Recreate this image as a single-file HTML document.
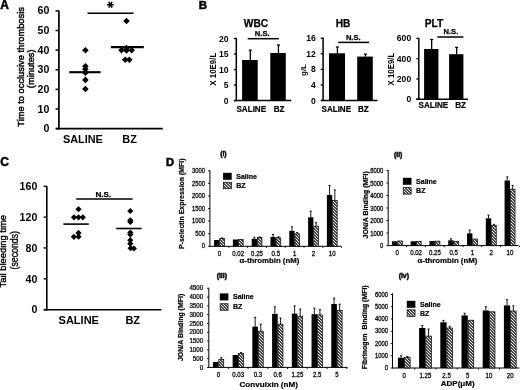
<!DOCTYPE html>
<html><head><meta charset="utf-8"><style>
html,body{margin:0;padding:0;background:#fff;width:520px;height:390px;overflow:hidden}
svg{display:block;will-change:transform}
text{font-family:"Liberation Sans",sans-serif;fill:#000;white-space:pre}
</style></head><body>
<svg width="520" height="390" viewBox="0 0 520 390">
<defs>
<pattern id="hatch" patternUnits="userSpaceOnUse" width="3" height="3">
<rect x="0" y="0" width="3" height="3" fill="#000"/>
<path d="M0 0L0.75 0L3 2.25L3 3L2.25 3L0 0.75Z M2.25 0L3 0L3 0.75Z M0 2.25L0.75 3L0 3Z" fill="#fff"/>
</pattern>
</defs>
<rect x="0" y="0" width="520" height="390" fill="#fff"/>
<text x="0.3" y="8.6" style="font-size:12px;stroke:#000;stroke-width:0.5px;font-weight:bold;" text-anchor="start">A</text>
<line x1="58.9" y1="10.6" x2="58.9" y2="129.5" stroke="#000" stroke-width="1.7"/>
<line x1="56" y1="128.7" x2="162.8" y2="128.7" stroke="#000" stroke-width="1.7"/>
<line x1="55.5" y1="128.6" x2="58.9" y2="128.6" stroke="#000" stroke-width="1.5"/>
<text x="49.3" y="132.2" style="font-size:10.6px;font-weight:bold;" text-anchor="end">0</text>
<line x1="55.5" y1="108.98" x2="58.9" y2="108.98" stroke="#000" stroke-width="1.5"/>
<text x="49.3" y="112.58" style="font-size:10.6px;font-weight:bold;" text-anchor="end">10</text>
<line x1="55.5" y1="89.36" x2="58.9" y2="89.36" stroke="#000" stroke-width="1.5"/>
<text x="49.3" y="92.96" style="font-size:10.6px;font-weight:bold;" text-anchor="end">20</text>
<line x1="55.5" y1="69.74" x2="58.9" y2="69.74" stroke="#000" stroke-width="1.5"/>
<text x="49.3" y="73.34" style="font-size:10.6px;font-weight:bold;" text-anchor="end">30</text>
<line x1="55.5" y1="50.12" x2="58.9" y2="50.12" stroke="#000" stroke-width="1.5"/>
<text x="49.3" y="53.72" style="font-size:10.6px;font-weight:bold;" text-anchor="end">40</text>
<line x1="55.5" y1="30.5" x2="58.9" y2="30.5" stroke="#000" stroke-width="1.5"/>
<text x="49.3" y="34.1" style="font-size:10.6px;font-weight:bold;" text-anchor="end">50</text>
<line x1="55.5" y1="10.88" x2="58.9" y2="10.88" stroke="#000" stroke-width="1.5"/>
<text x="49.3" y="14.48" style="font-size:10.6px;font-weight:bold;" text-anchor="end">60</text>
<text x="23.9" y="66.9" style="font-size:9.3px;stroke:#000;stroke-width:0.45px;" text-anchor="middle" transform="rotate(-90 23.9 66.9)">Time to occlusive thrombosis</text>
<text x="34.1" y="68.8" style="font-size:9.3px;stroke:#000;stroke-width:0.45px;" text-anchor="middle" transform="rotate(-90 34.1 68.8)">(minutes)</text>
<text x="62.9" y="142.6" style="font-size:10.9px;font-weight:bold;" text-anchor="start">SALINE</text>
<text x="122.3" y="142.6" style="font-size:10.9px;font-weight:bold;" text-anchor="start">BZ</text>
<line x1="87.5" y1="13.3" x2="133.6" y2="13.3" stroke="#000" stroke-width="1.6"/>
<line x1="107.1" y1="4.8" x2="113.7" y2="4.8" stroke="#000" stroke-width="1.6"/>
<line x1="108.75" y1="1.94" x2="112.05" y2="7.66" stroke="#000" stroke-width="1.6"/>
<line x1="112.05" y1="1.94" x2="108.75" y2="7.66" stroke="#000" stroke-width="1.6"/>
<path d="M85.4 46.9L88.7 50.2L85.4 53.5L82.1 50.2Z" fill="#000"/>
<path d="M85.4 63L88.7 66.3L85.4 69.6L82.1 66.3Z" fill="#000"/>
<path d="M85.4 66L88.7 69.3L85.4 72.6L82.1 69.3Z" fill="#000"/>
<path d="M85.4 69.4L88.7 72.7L85.4 76L82.1 72.7Z" fill="#000"/>
<path d="M85.4 76.6L88.7 79.9L85.4 83.2L82.1 79.9Z" fill="#000"/>
<path d="M85.4 85.7L88.7 89L85.4 92.3L82.1 89Z" fill="#000"/>
<line x1="69.2" y1="72.2" x2="100.6" y2="72.2" stroke="#000" stroke-width="2.1"/>
<path d="M126.5 17.7L129.8 21L126.5 24.3L123.2 21Z" fill="#000"/>
<path d="M126.5 44.7L129.8 48L126.5 51.3L123.2 48Z" fill="#000"/>
<path d="M121.5 46.9L124.8 50.2L121.5 53.5L118.2 50.2Z" fill="#000"/>
<path d="M126.5 47.1L129.8 50.4L126.5 53.7L123.2 50.4Z" fill="#000"/>
<path d="M131.7 46.9L135 50.2L131.7 53.5L128.4 50.2Z" fill="#000"/>
<path d="M125.2 56.5L128.5 59.8L125.2 63.1L121.9 59.8Z" fill="#000"/>
<path d="M129.3 56.5L132.6 59.8L129.3 63.1L126 59.8Z" fill="#000"/>
<line x1="110.9" y1="47.1" x2="143.8" y2="47.1" stroke="#000" stroke-width="2.1"/>
<text x="198.8" y="9.3" style="font-size:11.5px;stroke:#000;stroke-width:0.5px;font-weight:bold;" text-anchor="start">B</text>
<line x1="236.3" y1="37.7" x2="236.3" y2="101.2" stroke="#000" stroke-width="1.5"/>
<line x1="234" y1="100.6" x2="291.3" y2="100.6" stroke="#000" stroke-width="1.5"/>
<line x1="233.9" y1="100.6" x2="236.3" y2="100.6" stroke="#000" stroke-width="1.3"/>
<text x="228.6" y="103.6" style="font-size:8.6px;font-weight:bold;" text-anchor="end">0</text>
<line x1="233.9" y1="85.07" x2="236.3" y2="85.07" stroke="#000" stroke-width="1.3"/>
<text x="228.6" y="88.07" style="font-size:8.6px;font-weight:bold;" text-anchor="end">5</text>
<line x1="233.9" y1="69.55" x2="236.3" y2="69.55" stroke="#000" stroke-width="1.3"/>
<text x="228.6" y="72.55" style="font-size:8.6px;font-weight:bold;" text-anchor="end">10</text>
<line x1="233.9" y1="54.02" x2="236.3" y2="54.02" stroke="#000" stroke-width="1.3"/>
<text x="228.6" y="57.02" style="font-size:8.6px;font-weight:bold;" text-anchor="end">15</text>
<line x1="233.9" y1="38.5" x2="236.3" y2="38.5" stroke="#000" stroke-width="1.3"/>
<text x="228.6" y="41.5" style="font-size:8.6px;font-weight:bold;" text-anchor="end">20</text>
<text x="256" y="26.6" style="font-size:10.2px;stroke:#000;stroke-width:0.25px;font-weight:bold;" text-anchor="middle">WBC</text>
<rect x="242.1" y="60" width="15.6" height="40.6" fill="#000"/>
<line x1="250.3" y1="60" x2="250.3" y2="50.2" stroke="#000" stroke-width="1.3"/>
<line x1="248.8" y1="50.2" x2="251.8" y2="50.2" stroke="#000" stroke-width="1.3"/>
<rect x="270.3" y="53" width="15.5" height="47.6" fill="#000"/>
<line x1="278.45" y1="53" x2="278.45" y2="45" stroke="#000" stroke-width="1.3"/>
<line x1="276.95" y1="45" x2="279.95" y2="45" stroke="#000" stroke-width="1.3"/>
<text x="236.5" y="111.9" style="font-size:8.5px;stroke:#000;stroke-width:0.2px;font-weight:bold;" text-anchor="start" transform="translate(236.5 111.9) scale(0.95 1) translate(-236.5 -111.9)">SALINE</text>
<text x="273.7" y="111.9" style="font-size:8.5px;stroke:#000;stroke-width:0.2px;font-weight:bold;" text-anchor="start" transform="translate(273.7 111.9) scale(0.95 1) translate(-273.7 -111.9)">BZ</text>
<text x="254.8" y="35.9" style="font-size:7.6px;stroke:#000;stroke-width:0.25px;font-weight:bold;" text-anchor="start">N.S.</text>
<line x1="247.7" y1="38.7" x2="278.8" y2="38.7" stroke="#000" stroke-width="1.5"/>
<text x="216.3" y="69.2" style="font-size:8.8px;font-weight:bold;" text-anchor="middle" transform="rotate(-90 216.3 69.2) translate(216.3 69.2) scale(0.9 1) translate(-216.3 -69.2)">X 10E9/L</text>
<line x1="323.1" y1="37.4" x2="323.1" y2="101.1" stroke="#000" stroke-width="1.5"/>
<line x1="321" y1="100.5" x2="377.5" y2="100.5" stroke="#000" stroke-width="1.5"/>
<line x1="320.7" y1="100.5" x2="323.1" y2="100.5" stroke="#000" stroke-width="1.3"/>
<text x="315.9" y="103.5" style="font-size:8.6px;font-weight:bold;" text-anchor="end">0</text>
<line x1="320.7" y1="84.94" x2="323.1" y2="84.94" stroke="#000" stroke-width="1.3"/>
<text x="315.9" y="87.94" style="font-size:8.6px;font-weight:bold;" text-anchor="end">4</text>
<line x1="320.7" y1="69.38" x2="323.1" y2="69.38" stroke="#000" stroke-width="1.3"/>
<text x="315.9" y="72.38" style="font-size:8.6px;font-weight:bold;" text-anchor="end">8</text>
<line x1="320.7" y1="53.82" x2="323.1" y2="53.82" stroke="#000" stroke-width="1.3"/>
<text x="315.9" y="56.82" style="font-size:8.6px;font-weight:bold;" text-anchor="end">12</text>
<line x1="320.7" y1="38.26" x2="323.1" y2="38.26" stroke="#000" stroke-width="1.3"/>
<text x="315.9" y="41.26" style="font-size:8.6px;font-weight:bold;" text-anchor="end">16</text>
<text x="343" y="26.6" style="font-size:10.2px;stroke:#000;stroke-width:0.25px;font-weight:bold;" text-anchor="middle">HB</text>
<rect x="329" y="53.3" width="16" height="47.2" fill="#000"/>
<line x1="337.4" y1="53.3" x2="337.4" y2="47" stroke="#000" stroke-width="1.3"/>
<line x1="335.9" y1="47" x2="338.9" y2="47" stroke="#000" stroke-width="1.3"/>
<rect x="357.2" y="56.6" width="15.6" height="43.9" fill="#000"/>
<line x1="365.4" y1="56.6" x2="365.4" y2="54.2" stroke="#000" stroke-width="1.3"/>
<line x1="363.9" y1="54.2" x2="366.9" y2="54.2" stroke="#000" stroke-width="1.3"/>
<text x="321.5" y="111.7" style="font-size:8.5px;stroke:#000;stroke-width:0.2px;font-weight:bold;" text-anchor="start" transform="translate(321.5 111.7) scale(0.95 1) translate(-321.5 -111.7)">SALINE</text>
<text x="357.9" y="111.7" style="font-size:8.5px;stroke:#000;stroke-width:0.2px;font-weight:bold;" text-anchor="start" transform="translate(357.9 111.7) scale(0.95 1) translate(-357.9 -111.7)">BZ</text>
<text x="345.9" y="39.9" style="font-size:7.6px;stroke:#000;stroke-width:0.25px;font-weight:bold;" text-anchor="start">N.S.</text>
<line x1="338.2" y1="42.4" x2="369" y2="42.4" stroke="#000" stroke-width="1.5"/>
<text x="305.5" y="70" style="font-size:7.9px;font-weight:bold;" text-anchor="middle" transform="rotate(-90 305.5 70)">g/L</text>
<line x1="418.8" y1="37.8" x2="418.8" y2="99.8" stroke="#000" stroke-width="1.5"/>
<line x1="416.2" y1="99.2" x2="468" y2="99.2" stroke="#000" stroke-width="1.5"/>
<line x1="416.4" y1="99.2" x2="418.8" y2="99.2" stroke="#000" stroke-width="1.3"/>
<text x="411.2" y="102.2" style="font-size:8.6px;font-weight:bold;" text-anchor="end">0</text>
<line x1="416.4" y1="78.94" x2="418.8" y2="78.94" stroke="#000" stroke-width="1.3"/>
<text x="411.2" y="81.94" style="font-size:8.6px;font-weight:bold;" text-anchor="end">200</text>
<line x1="416.4" y1="58.68" x2="418.8" y2="58.68" stroke="#000" stroke-width="1.3"/>
<text x="411.2" y="61.68" style="font-size:8.6px;font-weight:bold;" text-anchor="end">400</text>
<line x1="416.4" y1="38.42" x2="418.8" y2="38.42" stroke="#000" stroke-width="1.3"/>
<text x="411.2" y="41.42" style="font-size:8.6px;font-weight:bold;" text-anchor="end">600</text>
<text x="434" y="26.8" style="font-size:10.2px;stroke:#000;stroke-width:0.25px;font-weight:bold;" text-anchor="middle">PLT</text>
<rect x="424.1" y="49" width="14.3" height="50.2" fill="#000"/>
<line x1="431.65" y1="49" x2="431.65" y2="39.5" stroke="#000" stroke-width="1.3"/>
<line x1="430.15" y1="39.5" x2="433.15" y2="39.5" stroke="#000" stroke-width="1.3"/>
<rect x="449.1" y="54.2" width="14.3" height="45" fill="#000"/>
<line x1="456.65" y1="54.2" x2="456.65" y2="47.4" stroke="#000" stroke-width="1.3"/>
<line x1="455.15" y1="47.4" x2="458.15" y2="47.4" stroke="#000" stroke-width="1.3"/>
<text x="418.6" y="108.2" style="font-size:8.5px;stroke:#000;stroke-width:0.2px;font-weight:bold;" text-anchor="start" transform="translate(418.6 108.2) scale(0.95 1) translate(-418.6 -108.2)">SALINE</text>
<text x="455.2" y="108.2" style="font-size:8.5px;stroke:#000;stroke-width:0.2px;font-weight:bold;" text-anchor="start" transform="translate(455.2 108.2) scale(0.95 1) translate(-455.2 -108.2)">BZ</text>
<text x="443.5" y="34.4" style="font-size:7.6px;stroke:#000;stroke-width:0.25px;font-weight:bold;" text-anchor="start">N.S.</text>
<line x1="437.3" y1="37" x2="463.4" y2="37" stroke="#000" stroke-width="1.5"/>
<text x="394.4" y="69.1" style="font-size:8.7px;font-weight:bold;" text-anchor="middle" transform="rotate(-90 394.4 69.1) translate(394.4 69.1) scale(0.9 1) translate(-394.4 -69.1)">X 10E9/L</text>
<text x="0.2" y="166.2" style="font-size:12px;stroke:#000;stroke-width:0.5px;font-weight:bold;" text-anchor="start">C</text>
<line x1="46.8" y1="186" x2="46.8" y2="310.5" stroke="#000" stroke-width="1.6"/>
<line x1="43.8" y1="309.8" x2="161.4" y2="309.8" stroke="#000" stroke-width="1.6"/>
<line x1="43.6" y1="309.6" x2="46.8" y2="309.6" stroke="#000" stroke-width="1.4"/>
<text x="37.3" y="313.4" style="font-size:10.6px;font-weight:bold;" text-anchor="end">0</text>
<line x1="43.6" y1="278.78" x2="46.8" y2="278.78" stroke="#000" stroke-width="1.4"/>
<text x="37.3" y="282.58" style="font-size:10.6px;font-weight:bold;" text-anchor="end">40</text>
<line x1="43.6" y1="247.95" x2="46.8" y2="247.95" stroke="#000" stroke-width="1.4"/>
<text x="37.3" y="251.75" style="font-size:10.6px;font-weight:bold;" text-anchor="end">80</text>
<line x1="43.6" y1="217.13" x2="46.8" y2="217.13" stroke="#000" stroke-width="1.4"/>
<text x="37.3" y="220.93" style="font-size:10.6px;font-weight:bold;" text-anchor="end">120</text>
<line x1="43.6" y1="186.3" x2="46.8" y2="186.3" stroke="#000" stroke-width="1.4"/>
<text x="37.3" y="190.1" style="font-size:10.6px;font-weight:bold;" text-anchor="end">160</text>
<text x="6.4" y="251.2" style="font-size:9.4px;stroke:#000;stroke-width:0.4px;" text-anchor="middle" transform="rotate(-90 6.4 251.2)">Tail bleeding time</text>
<text x="18" y="250.3" style="font-size:10.2px;stroke:#000;stroke-width:0.35px;" text-anchor="middle" transform="rotate(-90 18 250.3) translate(18 250.3) scale(0.86 1) translate(-18 -250.3)">(seconds)</text>
<text x="58.6" y="324.1" style="font-size:11px;font-weight:bold;" text-anchor="start">SALINE</text>
<text x="125.4" y="324.1" style="font-size:11px;font-weight:bold;" text-anchor="start">BZ</text>
<text x="95.5" y="196.9" style="font-size:8.1px;stroke:#000;stroke-width:0.25px;font-weight:bold;" text-anchor="start">N.S.</text>
<line x1="76.2" y1="198.9" x2="132.6" y2="198.9" stroke="#000" stroke-width="1.5"/>
<path d="M78.5 206.1L81.6 209.2L78.5 212.3L75.4 209.2Z" fill="#000"/>
<path d="M74 214.2L77.1 217.3L74 220.4L70.9 217.3Z" fill="#000"/>
<path d="M78.5 214.2L81.6 217.3L78.5 220.4L75.4 217.3Z" fill="#000"/>
<path d="M82.8 214.2L85.9 217.3L82.8 220.4L79.7 217.3Z" fill="#000"/>
<path d="M78.5 229.8L81.6 232.9L78.5 236L75.4 232.9Z" fill="#000"/>
<path d="M73.9 233.7L77 236.8L73.9 239.9L70.8 236.8Z" fill="#000"/>
<path d="M78.6 233.6L81.7 236.7L78.6 239.8L75.5 236.7Z" fill="#000"/>
<line x1="63.4" y1="224.1" x2="88.8" y2="224.1" stroke="#000" stroke-width="1.6"/>
<path d="M130.3 207.9L133.4 211L130.3 214.1L127.2 211Z" fill="#000"/>
<path d="M130.3 217.2L133.4 220.3L130.3 223.4L127.2 220.3Z" fill="#000"/>
<path d="M130.3 218.9L133.4 222L130.3 225.1L127.2 222Z" fill="#000"/>
<path d="M130.3 229.5L133.4 232.6L130.3 235.7L127.2 232.6Z" fill="#000"/>
<path d="M130.3 231.5L133.4 234.6L130.3 237.7L127.2 234.6Z" fill="#000"/>
<path d="M130.3 237.1L133.4 240.2L130.3 243.3L127.2 240.2Z" fill="#000"/>
<path d="M130.3 240.6L133.4 243.7L130.3 246.8L127.2 243.7Z" fill="#000"/>
<path d="M133.9 245.4L137 248.5L133.9 251.6L130.8 248.5Z" fill="#000"/>
<path d="M130.6 245.1L133.7 248.2L130.6 251.3L127.5 248.2Z" fill="#000"/>
<line x1="116.2" y1="228.5" x2="141.6" y2="228.5" stroke="#000" stroke-width="1.6"/>
<text x="165.9" y="165.9" style="font-size:11.2px;stroke:#000;stroke-width:0.5px;font-weight:bold;" text-anchor="start">D</text>
<text x="223.4" y="156.4" style="font-size:6.9px;stroke:#000;stroke-width:0.45px;font-weight:bold;" text-anchor="middle">(i)</text>
<line x1="209.9" y1="170.3" x2="209.9" y2="246.8" stroke="#000" stroke-width="1"/>
<line x1="209.9" y1="246.3" x2="341.2" y2="246.3" stroke="#000" stroke-width="1"/>
<line x1="208.1" y1="246.3" x2="209.9" y2="246.3" stroke="#000" stroke-width="0.9"/>
<text x="205" y="248.5" style="font-size:6.4px;stroke:#000;stroke-width:0.25px;" text-anchor="end" transform="translate(205 248.5) scale(0.92 1) translate(-205 -248.5)">0</text>
<line x1="208.1" y1="233.72" x2="209.9" y2="233.72" stroke="#000" stroke-width="0.9"/>
<text x="205" y="235.91" style="font-size:6.4px;stroke:#000;stroke-width:0.25px;" text-anchor="end" transform="translate(205 235.91) scale(0.92 1) translate(-205 -235.91)">500</text>
<line x1="208.1" y1="221.13" x2="209.9" y2="221.13" stroke="#000" stroke-width="0.9"/>
<text x="205" y="223.33" style="font-size:6.4px;stroke:#000;stroke-width:0.25px;" text-anchor="end" transform="translate(205 223.33) scale(0.92 1) translate(-205 -223.33)">1000</text>
<line x1="208.1" y1="208.55" x2="209.9" y2="208.55" stroke="#000" stroke-width="0.9"/>
<text x="205" y="210.75" style="font-size:6.4px;stroke:#000;stroke-width:0.25px;" text-anchor="end" transform="translate(205 210.75) scale(0.92 1) translate(-205 -210.75)">1500</text>
<line x1="208.1" y1="195.96" x2="209.9" y2="195.96" stroke="#000" stroke-width="0.9"/>
<text x="205" y="198.16" style="font-size:6.4px;stroke:#000;stroke-width:0.25px;" text-anchor="end" transform="translate(205 198.16) scale(0.92 1) translate(-205 -198.16)">2000</text>
<line x1="208.1" y1="183.38" x2="209.9" y2="183.38" stroke="#000" stroke-width="0.9"/>
<text x="205" y="185.57" style="font-size:6.4px;stroke:#000;stroke-width:0.25px;" text-anchor="end" transform="translate(205 185.57) scale(0.92 1) translate(-205 -185.57)">2500</text>
<line x1="208.1" y1="170.79" x2="209.9" y2="170.79" stroke="#000" stroke-width="0.9"/>
<text x="205" y="172.99" style="font-size:6.4px;stroke:#000;stroke-width:0.25px;" text-anchor="end" transform="translate(205 172.99) scale(0.92 1) translate(-205 -172.99)">3000</text>
<line x1="228.8" y1="246.3" x2="228.8" y2="247.9" stroke="#000" stroke-width="0.9"/>
<line x1="247.6" y1="246.3" x2="247.6" y2="247.9" stroke="#000" stroke-width="0.9"/>
<line x1="266.4" y1="246.3" x2="266.4" y2="247.9" stroke="#000" stroke-width="0.9"/>
<line x1="285.2" y1="246.3" x2="285.2" y2="247.9" stroke="#000" stroke-width="0.9"/>
<line x1="304" y1="246.3" x2="304" y2="247.9" stroke="#000" stroke-width="0.9"/>
<line x1="322.8" y1="246.3" x2="322.8" y2="247.9" stroke="#000" stroke-width="0.9"/>
<line x1="341.6" y1="246.3" x2="341.6" y2="247.9" stroke="#000" stroke-width="0.9"/>
<rect x="214.1" y="240" width="5.3" height="6.3" fill="#000"/>
<rect x="219.75" y="238.4" width="4.6" height="7.9" fill="url(#hatch)" stroke="#000" stroke-width="0.7"/>
<line x1="222.05" y1="238.4" x2="222.05" y2="238" stroke="#000" stroke-width="0.9"/>
<line x1="220.95" y1="238" x2="223.15" y2="238" stroke="#000" stroke-width="0.9"/>
<text x="219.4" y="255.6" style="font-size:6.4px;stroke:#000;stroke-width:0.25px;" text-anchor="middle" transform="translate(219.4 255.6) scale(0.95 1) translate(-219.4 -255.6)">0</text>
<rect x="232.9" y="239.5" width="5.3" height="6.8" fill="#000"/>
<rect x="238.55" y="239.3" width="4.6" height="7" fill="url(#hatch)" stroke="#000" stroke-width="0.7"/>
<text x="238.2" y="255.6" style="font-size:6.4px;stroke:#000;stroke-width:0.25px;" text-anchor="middle" transform="translate(238.2 255.6) scale(0.95 1) translate(-238.2 -255.6)">0.02</text>
<rect x="251.7" y="238.8" width="5.3" height="7.5" fill="#000"/>
<rect x="257.35" y="237.4" width="4.6" height="8.9" fill="url(#hatch)" stroke="#000" stroke-width="0.7"/>
<line x1="254.35" y1="238.8" x2="254.35" y2="237.3" stroke="#000" stroke-width="0.9"/>
<line x1="253.25" y1="237.3" x2="255.45" y2="237.3" stroke="#000" stroke-width="0.9"/>
<line x1="259.65" y1="237.4" x2="259.65" y2="237" stroke="#000" stroke-width="0.9"/>
<line x1="258.55" y1="237" x2="260.75" y2="237" stroke="#000" stroke-width="0.9"/>
<text x="257" y="255.6" style="font-size:6.4px;stroke:#000;stroke-width:0.25px;" text-anchor="middle" transform="translate(257 255.6) scale(0.95 1) translate(-257 -255.6)">0.25</text>
<rect x="270.5" y="237" width="5.3" height="9.3" fill="#000"/>
<rect x="276.15" y="237.8" width="4.6" height="8.5" fill="url(#hatch)" stroke="#000" stroke-width="0.7"/>
<line x1="273.15" y1="237" x2="273.15" y2="234.5" stroke="#000" stroke-width="0.9"/>
<line x1="272.05" y1="234.5" x2="274.25" y2="234.5" stroke="#000" stroke-width="0.9"/>
<line x1="278.45" y1="237.8" x2="278.45" y2="236.8" stroke="#000" stroke-width="0.9"/>
<line x1="277.35" y1="236.8" x2="279.55" y2="236.8" stroke="#000" stroke-width="0.9"/>
<text x="275.8" y="255.6" style="font-size:6.4px;stroke:#000;stroke-width:0.25px;" text-anchor="middle" transform="translate(275.8 255.6) scale(0.95 1) translate(-275.8 -255.6)">0.5</text>
<rect x="289.3" y="230.8" width="5.3" height="15.5" fill="#000"/>
<rect x="294.95" y="233.9" width="4.6" height="12.4" fill="url(#hatch)" stroke="#000" stroke-width="0.7"/>
<line x1="291.95" y1="230.8" x2="291.95" y2="226.8" stroke="#000" stroke-width="0.9"/>
<line x1="290.85" y1="226.8" x2="293.05" y2="226.8" stroke="#000" stroke-width="0.9"/>
<line x1="297.25" y1="233.9" x2="297.25" y2="232.6" stroke="#000" stroke-width="0.9"/>
<line x1="296.15" y1="232.6" x2="298.35" y2="232.6" stroke="#000" stroke-width="0.9"/>
<text x="294.6" y="255.6" style="font-size:6.4px;stroke:#000;stroke-width:0.25px;" text-anchor="middle" transform="translate(294.6 255.6) scale(0.95 1) translate(-294.6 -255.6)">1</text>
<rect x="308.1" y="217.3" width="5.3" height="29" fill="#000"/>
<rect x="313.75" y="226.2" width="4.6" height="20.1" fill="url(#hatch)" stroke="#000" stroke-width="0.7"/>
<line x1="310.75" y1="217.3" x2="310.75" y2="211.2" stroke="#000" stroke-width="0.9"/>
<line x1="309.65" y1="211.2" x2="311.85" y2="211.2" stroke="#000" stroke-width="0.9"/>
<line x1="316.05" y1="226.2" x2="316.05" y2="222.7" stroke="#000" stroke-width="0.9"/>
<line x1="314.95" y1="222.7" x2="317.15" y2="222.7" stroke="#000" stroke-width="0.9"/>
<text x="313.4" y="255.6" style="font-size:6.4px;stroke:#000;stroke-width:0.25px;" text-anchor="middle" transform="translate(313.4 255.6) scale(0.95 1) translate(-313.4 -255.6)">2</text>
<rect x="326.9" y="195" width="5.3" height="51.3" fill="#000"/>
<rect x="332.55" y="200.4" width="4.6" height="45.9" fill="url(#hatch)" stroke="#000" stroke-width="0.7"/>
<line x1="329.55" y1="195" x2="329.55" y2="185.5" stroke="#000" stroke-width="0.9"/>
<line x1="328.45" y1="185.5" x2="330.65" y2="185.5" stroke="#000" stroke-width="0.9"/>
<line x1="334.85" y1="200.4" x2="334.85" y2="190" stroke="#000" stroke-width="0.9"/>
<line x1="333.75" y1="190" x2="335.95" y2="190" stroke="#000" stroke-width="0.9"/>
<text x="332.2" y="255.6" style="font-size:6.4px;stroke:#000;stroke-width:0.25px;" text-anchor="middle" transform="translate(332.2 255.6) scale(0.95 1) translate(-332.2 -255.6)">10</text>
<text x="239.5" y="263.2" style="font-size:7.8px;stroke:#000;stroke-width:0.2px;font-weight:bold;" text-anchor="start">α-thrombin (nM)</text>
<text x="183.7" y="203.7" style="font-size:6.95px;stroke:#000;stroke-width:0.2px;font-weight:bold;" text-anchor="middle" transform="rotate(-90 183.7 203.7)">P-selectin Expression (MFI)</text>
<rect x="223.1" y="172.8" width="8.6" height="7" fill="#000"/>
<rect x="223.45" y="182.25" width="7.9" height="6.5" fill="url(#hatch)" stroke="#000" stroke-width="0.7"/>
<text x="236.3" y="178.8" style="font-size:7px;stroke:#000;stroke-width:0.2px;font-weight:bold;" text-anchor="start">Saline</text>
<text x="236.3" y="187.9" style="font-size:7px;stroke:#000;stroke-width:0.2px;font-weight:bold;" text-anchor="start">BZ</text>
<text x="398.2" y="156.6" style="font-size:6.9px;stroke:#000;stroke-width:0.45px;font-weight:bold;" text-anchor="middle">(ii)</text>
<line x1="388.2" y1="170" x2="388.2" y2="246.1" stroke="#000" stroke-width="1"/>
<line x1="388.2" y1="245.6" x2="518.5" y2="245.6" stroke="#000" stroke-width="1"/>
<line x1="386.4" y1="245.6" x2="388.2" y2="245.6" stroke="#000" stroke-width="0.9"/>
<text x="383.2" y="248.2" style="font-size:6.4px;stroke:#000;stroke-width:0.25px;" text-anchor="end" transform="translate(383.2 248.2) scale(0.92 1) translate(-383.2 -248.2)">0</text>
<line x1="386.4" y1="233.07" x2="388.2" y2="233.07" stroke="#000" stroke-width="0.9"/>
<text x="383.2" y="235.67" style="font-size:6.4px;stroke:#000;stroke-width:0.25px;" text-anchor="end" transform="translate(383.2 235.67) scale(0.92 1) translate(-383.2 -235.67)">1000</text>
<line x1="386.4" y1="220.53" x2="388.2" y2="220.53" stroke="#000" stroke-width="0.9"/>
<text x="383.2" y="223.13" style="font-size:6.4px;stroke:#000;stroke-width:0.25px;" text-anchor="end" transform="translate(383.2 223.13) scale(0.92 1) translate(-383.2 -223.13)">2000</text>
<line x1="386.4" y1="208" x2="388.2" y2="208" stroke="#000" stroke-width="0.9"/>
<text x="383.2" y="210.6" style="font-size:6.4px;stroke:#000;stroke-width:0.25px;" text-anchor="end" transform="translate(383.2 210.6) scale(0.92 1) translate(-383.2 -210.6)">3000</text>
<line x1="386.4" y1="195.47" x2="388.2" y2="195.47" stroke="#000" stroke-width="0.9"/>
<text x="383.2" y="198.07" style="font-size:6.4px;stroke:#000;stroke-width:0.25px;" text-anchor="end" transform="translate(383.2 198.07) scale(0.92 1) translate(-383.2 -198.07)">4000</text>
<line x1="386.4" y1="182.94" x2="388.2" y2="182.94" stroke="#000" stroke-width="0.9"/>
<text x="383.2" y="185.53" style="font-size:6.4px;stroke:#000;stroke-width:0.25px;" text-anchor="end" transform="translate(383.2 185.53) scale(0.92 1) translate(-383.2 -185.53)">5000</text>
<line x1="386.4" y1="170.4" x2="388.2" y2="170.4" stroke="#000" stroke-width="0.9"/>
<text x="383.2" y="173" style="font-size:6.4px;stroke:#000;stroke-width:0.25px;" text-anchor="end" transform="translate(383.2 173) scale(0.92 1) translate(-383.2 -173)">6000</text>
<line x1="406.69" y1="245.6" x2="406.69" y2="247.2" stroke="#000" stroke-width="0.9"/>
<line x1="425.47" y1="245.6" x2="425.47" y2="247.2" stroke="#000" stroke-width="0.9"/>
<line x1="444.25" y1="245.6" x2="444.25" y2="247.2" stroke="#000" stroke-width="0.9"/>
<line x1="463.03" y1="245.6" x2="463.03" y2="247.2" stroke="#000" stroke-width="0.9"/>
<line x1="481.81" y1="245.6" x2="481.81" y2="247.2" stroke="#000" stroke-width="0.9"/>
<line x1="500.59" y1="245.6" x2="500.59" y2="247.2" stroke="#000" stroke-width="0.9"/>
<line x1="519.37" y1="245.6" x2="519.37" y2="247.2" stroke="#000" stroke-width="0.9"/>
<rect x="391.9" y="241.3" width="5.4" height="4.3" fill="#000"/>
<rect x="397.65" y="241" width="4.7" height="4.6" fill="url(#hatch)" stroke="#000" stroke-width="0.7"/>
<text x="397.3" y="255" style="font-size:6.4px;stroke:#000;stroke-width:0.25px;" text-anchor="middle" transform="translate(397.3 255) scale(0.95 1) translate(-397.3 -255)">0</text>
<rect x="410.68" y="241.3" width="5.4" height="4.3" fill="#000"/>
<rect x="416.43" y="241.3" width="4.7" height="4.3" fill="url(#hatch)" stroke="#000" stroke-width="0.7"/>
<text x="416.08" y="255" style="font-size:6.4px;stroke:#000;stroke-width:0.25px;" text-anchor="middle" transform="translate(416.08 255) scale(0.95 1) translate(-416.08 -255)">0.02</text>
<rect x="429.46" y="241" width="5.4" height="4.6" fill="#000"/>
<rect x="435.21" y="241.1" width="4.7" height="4.5" fill="url(#hatch)" stroke="#000" stroke-width="0.7"/>
<text x="434.86" y="255" style="font-size:6.4px;stroke:#000;stroke-width:0.25px;" text-anchor="middle" transform="translate(434.86 255) scale(0.95 1) translate(-434.86 -255)">0.25</text>
<rect x="448.24" y="240.3" width="5.4" height="5.3" fill="#000"/>
<rect x="453.99" y="241.3" width="4.7" height="4.3" fill="url(#hatch)" stroke="#000" stroke-width="0.7"/>
<line x1="450.94" y1="240.3" x2="450.94" y2="238.8" stroke="#000" stroke-width="0.9"/>
<line x1="449.84" y1="238.8" x2="452.04" y2="238.8" stroke="#000" stroke-width="0.9"/>
<text x="453.64" y="255" style="font-size:6.4px;stroke:#000;stroke-width:0.25px;" text-anchor="middle" transform="translate(453.64 255) scale(0.95 1) translate(-453.64 -255)">0.5</text>
<rect x="467.02" y="233.3" width="5.4" height="12.3" fill="#000"/>
<rect x="472.77" y="239" width="4.7" height="6.6" fill="url(#hatch)" stroke="#000" stroke-width="0.7"/>
<line x1="469.72" y1="233.3" x2="469.72" y2="230.1" stroke="#000" stroke-width="0.9"/>
<line x1="468.62" y1="230.1" x2="470.82" y2="230.1" stroke="#000" stroke-width="0.9"/>
<text x="472.42" y="255" style="font-size:6.4px;stroke:#000;stroke-width:0.25px;" text-anchor="middle" transform="translate(472.42 255) scale(0.95 1) translate(-472.42 -255)">1</text>
<rect x="485.8" y="218.3" width="5.4" height="27.3" fill="#000"/>
<rect x="491.55" y="225.5" width="4.7" height="20.1" fill="url(#hatch)" stroke="#000" stroke-width="0.7"/>
<line x1="488.5" y1="218.3" x2="488.5" y2="215.1" stroke="#000" stroke-width="0.9"/>
<line x1="487.4" y1="215.1" x2="489.6" y2="215.1" stroke="#000" stroke-width="0.9"/>
<line x1="493.9" y1="225.5" x2="493.9" y2="224.4" stroke="#000" stroke-width="0.9"/>
<line x1="492.8" y1="224.4" x2="495" y2="224.4" stroke="#000" stroke-width="0.9"/>
<text x="491.2" y="255" style="font-size:6.4px;stroke:#000;stroke-width:0.25px;" text-anchor="middle" transform="translate(491.2 255) scale(0.95 1) translate(-491.2 -255)">2</text>
<rect x="504.58" y="180.5" width="5.4" height="65.1" fill="#000"/>
<rect x="510.33" y="189.2" width="4.7" height="56.4" fill="url(#hatch)" stroke="#000" stroke-width="0.7"/>
<line x1="507.28" y1="180.5" x2="507.28" y2="176.9" stroke="#000" stroke-width="0.9"/>
<line x1="506.18" y1="176.9" x2="508.38" y2="176.9" stroke="#000" stroke-width="0.9"/>
<line x1="512.68" y1="189.2" x2="512.68" y2="185.4" stroke="#000" stroke-width="0.9"/>
<line x1="511.58" y1="185.4" x2="513.78" y2="185.4" stroke="#000" stroke-width="0.9"/>
<text x="509.98" y="255" style="font-size:6.4px;stroke:#000;stroke-width:0.25px;" text-anchor="middle" transform="translate(509.98 255) scale(0.95 1) translate(-509.98 -255)">10</text>
<text x="417.5" y="263" style="font-size:7.8px;stroke:#000;stroke-width:0.2px;font-weight:bold;" text-anchor="start">α-thrombin (nM)</text>
<text x="367.9" y="204.8" style="font-size:6.95px;stroke:#000;stroke-width:0.2px;font-weight:bold;" text-anchor="middle" transform="rotate(-90 367.9 204.8)">JON/A Binding (MFI)</text>
<rect x="402.9" y="177.8" width="8.6" height="7" fill="#000"/>
<rect x="403.25" y="187.65" width="7.9" height="6.5" fill="url(#hatch)" stroke="#000" stroke-width="0.7"/>
<text x="416.1" y="183.8" style="font-size:7px;stroke:#000;stroke-width:0.2px;font-weight:bold;" text-anchor="start">Saline</text>
<text x="416.1" y="193.3" style="font-size:7px;stroke:#000;stroke-width:0.2px;font-weight:bold;" text-anchor="start">BZ</text>
<text x="221.8" y="278.1" style="font-size:6.9px;stroke:#000;stroke-width:0.45px;font-weight:bold;" text-anchor="middle">(iii)</text>
<line x1="208.8" y1="287.7" x2="208.8" y2="367.9" stroke="#000" stroke-width="1"/>
<line x1="208.8" y1="367.4" x2="347.5" y2="367.4" stroke="#000" stroke-width="1"/>
<line x1="207" y1="367.4" x2="208.8" y2="367.4" stroke="#000" stroke-width="0.9"/>
<text x="203.2" y="369.6" style="font-size:6.4px;stroke:#000;stroke-width:0.25px;" text-anchor="end" transform="translate(203.2 369.6) scale(0.97 1) translate(-203.2 -369.6)">0</text>
<line x1="207" y1="358.61" x2="208.8" y2="358.61" stroke="#000" stroke-width="0.9"/>
<text x="203.2" y="360.81" style="font-size:6.4px;stroke:#000;stroke-width:0.25px;" text-anchor="end" transform="translate(203.2 360.81) scale(0.97 1) translate(-203.2 -360.81)">500</text>
<line x1="207" y1="349.82" x2="208.8" y2="349.82" stroke="#000" stroke-width="0.9"/>
<text x="203.2" y="352.02" style="font-size:6.4px;stroke:#000;stroke-width:0.25px;" text-anchor="end" transform="translate(203.2 352.02) scale(0.97 1) translate(-203.2 -352.02)">1000</text>
<line x1="207" y1="341.03" x2="208.8" y2="341.03" stroke="#000" stroke-width="0.9"/>
<text x="203.2" y="343.23" style="font-size:6.4px;stroke:#000;stroke-width:0.25px;" text-anchor="end" transform="translate(203.2 343.23) scale(0.97 1) translate(-203.2 -343.23)">1500</text>
<line x1="207" y1="332.24" x2="208.8" y2="332.24" stroke="#000" stroke-width="0.9"/>
<text x="203.2" y="334.44" style="font-size:6.4px;stroke:#000;stroke-width:0.25px;" text-anchor="end" transform="translate(203.2 334.44) scale(0.97 1) translate(-203.2 -334.44)">2000</text>
<line x1="207" y1="323.45" x2="208.8" y2="323.45" stroke="#000" stroke-width="0.9"/>
<text x="203.2" y="325.65" style="font-size:6.4px;stroke:#000;stroke-width:0.25px;" text-anchor="end" transform="translate(203.2 325.65) scale(0.97 1) translate(-203.2 -325.65)">2500</text>
<line x1="207" y1="314.66" x2="208.8" y2="314.66" stroke="#000" stroke-width="0.9"/>
<text x="203.2" y="316.86" style="font-size:6.4px;stroke:#000;stroke-width:0.25px;" text-anchor="end" transform="translate(203.2 316.86) scale(0.97 1) translate(-203.2 -316.86)">3000</text>
<line x1="207" y1="305.87" x2="208.8" y2="305.87" stroke="#000" stroke-width="0.9"/>
<text x="203.2" y="308.07" style="font-size:6.4px;stroke:#000;stroke-width:0.25px;" text-anchor="end" transform="translate(203.2 308.07) scale(0.97 1) translate(-203.2 -308.07)">3500</text>
<line x1="207" y1="297.08" x2="208.8" y2="297.08" stroke="#000" stroke-width="0.9"/>
<text x="203.2" y="299.28" style="font-size:6.4px;stroke:#000;stroke-width:0.25px;" text-anchor="end" transform="translate(203.2 299.28) scale(0.97 1) translate(-203.2 -299.28)">4000</text>
<line x1="207" y1="288.29" x2="208.8" y2="288.29" stroke="#000" stroke-width="0.9"/>
<text x="203.2" y="290.49" style="font-size:6.4px;stroke:#000;stroke-width:0.25px;" text-anchor="end" transform="translate(203.2 290.49) scale(0.97 1) translate(-203.2 -290.49)">4500</text>
<line x1="228.37" y1="367.4" x2="228.37" y2="369" stroke="#000" stroke-width="0.9"/>
<line x1="248.09" y1="367.4" x2="248.09" y2="369" stroke="#000" stroke-width="0.9"/>
<line x1="267.82" y1="367.4" x2="267.82" y2="369" stroke="#000" stroke-width="0.9"/>
<line x1="287.56" y1="367.4" x2="287.56" y2="369" stroke="#000" stroke-width="0.9"/>
<line x1="307.28" y1="367.4" x2="307.28" y2="369" stroke="#000" stroke-width="0.9"/>
<line x1="327.01" y1="367.4" x2="327.01" y2="369" stroke="#000" stroke-width="0.9"/>
<line x1="346.75" y1="367.4" x2="346.75" y2="369" stroke="#000" stroke-width="0.9"/>
<rect x="212.9" y="362" width="5.6" height="5.4" fill="#000"/>
<rect x="218.85" y="359.4" width="4.9" height="8" fill="url(#hatch)" stroke="#000" stroke-width="0.7"/>
<line x1="221.3" y1="359.4" x2="221.3" y2="357.6" stroke="#000" stroke-width="0.9"/>
<line x1="220.2" y1="357.6" x2="222.4" y2="357.6" stroke="#000" stroke-width="0.9"/>
<text x="218.5" y="377.2" style="font-size:6.4px;stroke:#000;stroke-width:0.25px;" text-anchor="middle" transform="translate(218.5 377.2) scale(0.95 1) translate(-218.5 -377.2)">0</text>
<rect x="232.63" y="355" width="5.6" height="12.4" fill="#000"/>
<rect x="238.58" y="353.6" width="4.9" height="13.8" fill="url(#hatch)" stroke="#000" stroke-width="0.7"/>
<line x1="241.03" y1="353.6" x2="241.03" y2="352.6" stroke="#000" stroke-width="0.9"/>
<line x1="239.93" y1="352.6" x2="242.13" y2="352.6" stroke="#000" stroke-width="0.9"/>
<text x="238.23" y="377.2" style="font-size:6.4px;stroke:#000;stroke-width:0.25px;" text-anchor="middle" transform="translate(238.23 377.2) scale(0.95 1) translate(-238.23 -377.2)">0.03</text>
<rect x="252.36" y="326.6" width="5.6" height="40.8" fill="#000"/>
<rect x="258.31" y="331.2" width="4.9" height="36.2" fill="url(#hatch)" stroke="#000" stroke-width="0.7"/>
<line x1="255.16" y1="326.6" x2="255.16" y2="317.3" stroke="#000" stroke-width="0.9"/>
<line x1="254.06" y1="317.3" x2="256.26" y2="317.3" stroke="#000" stroke-width="0.9"/>
<line x1="260.76" y1="331.2" x2="260.76" y2="324.2" stroke="#000" stroke-width="0.9"/>
<line x1="259.66" y1="324.2" x2="261.86" y2="324.2" stroke="#000" stroke-width="0.9"/>
<text x="257.96" y="377.2" style="font-size:6.4px;stroke:#000;stroke-width:0.25px;" text-anchor="middle" transform="translate(257.96 377.2) scale(0.95 1) translate(-257.96 -377.2)">0.3</text>
<rect x="272.09" y="313.9" width="5.6" height="53.5" fill="#000"/>
<rect x="278.04" y="324.2" width="4.9" height="43.2" fill="url(#hatch)" stroke="#000" stroke-width="0.7"/>
<line x1="274.89" y1="313.9" x2="274.89" y2="306.9" stroke="#000" stroke-width="0.9"/>
<line x1="273.79" y1="306.9" x2="275.99" y2="306.9" stroke="#000" stroke-width="0.9"/>
<line x1="280.49" y1="324.2" x2="280.49" y2="318" stroke="#000" stroke-width="0.9"/>
<line x1="279.39" y1="318" x2="281.59" y2="318" stroke="#000" stroke-width="0.9"/>
<text x="277.69" y="377.2" style="font-size:6.4px;stroke:#000;stroke-width:0.25px;" text-anchor="middle" transform="translate(277.69 377.2) scale(0.95 1) translate(-277.69 -377.2)">0.6</text>
<rect x="291.82" y="313.6" width="5.6" height="53.8" fill="#000"/>
<rect x="297.77" y="316.2" width="4.9" height="51.2" fill="url(#hatch)" stroke="#000" stroke-width="0.7"/>
<line x1="294.62" y1="313.6" x2="294.62" y2="305.9" stroke="#000" stroke-width="0.9"/>
<line x1="293.52" y1="305.9" x2="295.72" y2="305.9" stroke="#000" stroke-width="0.9"/>
<line x1="300.22" y1="316.2" x2="300.22" y2="309.1" stroke="#000" stroke-width="0.9"/>
<line x1="299.12" y1="309.1" x2="301.32" y2="309.1" stroke="#000" stroke-width="0.9"/>
<text x="297.42" y="377.2" style="font-size:6.4px;stroke:#000;stroke-width:0.25px;" text-anchor="middle" transform="translate(297.42 377.2) scale(0.95 1) translate(-297.42 -377.2)">1.25</text>
<rect x="311.55" y="314.2" width="5.6" height="53.2" fill="#000"/>
<rect x="317.5" y="314.9" width="4.9" height="52.5" fill="url(#hatch)" stroke="#000" stroke-width="0.7"/>
<line x1="314.35" y1="314.2" x2="314.35" y2="308.1" stroke="#000" stroke-width="0.9"/>
<line x1="313.25" y1="308.1" x2="315.45" y2="308.1" stroke="#000" stroke-width="0.9"/>
<line x1="319.95" y1="314.9" x2="319.95" y2="309.7" stroke="#000" stroke-width="0.9"/>
<line x1="318.85" y1="309.7" x2="321.05" y2="309.7" stroke="#000" stroke-width="0.9"/>
<text x="317.15" y="377.2" style="font-size:6.4px;stroke:#000;stroke-width:0.25px;" text-anchor="middle" transform="translate(317.15 377.2) scale(0.95 1) translate(-317.15 -377.2)">2.5</text>
<rect x="331.28" y="304" width="5.6" height="63.4" fill="#000"/>
<rect x="337.23" y="310.4" width="4.9" height="57" fill="url(#hatch)" stroke="#000" stroke-width="0.7"/>
<line x1="334.08" y1="304" x2="334.08" y2="298.2" stroke="#000" stroke-width="0.9"/>
<line x1="332.98" y1="298.2" x2="335.18" y2="298.2" stroke="#000" stroke-width="0.9"/>
<line x1="339.68" y1="310.4" x2="339.68" y2="304.2" stroke="#000" stroke-width="0.9"/>
<line x1="338.58" y1="304.2" x2="340.78" y2="304.2" stroke="#000" stroke-width="0.9"/>
<text x="336.88" y="377.2" style="font-size:6.4px;stroke:#000;stroke-width:0.25px;" text-anchor="middle" transform="translate(336.88 377.2) scale(0.95 1) translate(-336.88 -377.2)">5</text>
<text x="239.5" y="387.4" style="font-size:8.1px;stroke:#000;stroke-width:0.2px;font-weight:bold;" text-anchor="start">Convulxin (nM)</text>
<text x="183.5" y="327.4" style="font-size:6.95px;stroke:#000;stroke-width:0.2px;font-weight:bold;" text-anchor="middle" transform="rotate(-90 183.5 327.4)">JON/A Binding (MFI)</text>
<rect x="219.8" y="293.4" width="8.6" height="7" fill="#000"/>
<rect x="220.15" y="303.75" width="7.9" height="6.5" fill="url(#hatch)" stroke="#000" stroke-width="0.7"/>
<text x="233" y="299.4" style="font-size:7px;stroke:#000;stroke-width:0.2px;font-weight:bold;" text-anchor="start">Saline</text>
<text x="233" y="309.4" style="font-size:7px;stroke:#000;stroke-width:0.2px;font-weight:bold;" text-anchor="start">BZ</text>
<text x="403.8" y="278.4" style="font-size:6.9px;stroke:#000;stroke-width:0.45px;font-weight:bold;" text-anchor="middle">(iv)</text>
<line x1="392.5" y1="293.2" x2="392.5" y2="368.5" stroke="#000" stroke-width="1"/>
<line x1="392.5" y1="368" x2="519.4" y2="368" stroke="#000" stroke-width="1"/>
<line x1="390.7" y1="368" x2="392.5" y2="368" stroke="#000" stroke-width="0.9"/>
<text x="388.1" y="370.2" style="font-size:6.4px;stroke:#000;stroke-width:0.25px;" text-anchor="end" transform="translate(388.1 370.2) scale(0.92 1) translate(-388.1 -370.2)">0</text>
<line x1="390.7" y1="355.75" x2="392.5" y2="355.75" stroke="#000" stroke-width="0.9"/>
<text x="388.1" y="357.95" style="font-size:6.4px;stroke:#000;stroke-width:0.25px;" text-anchor="end" transform="translate(388.1 357.95) scale(0.92 1) translate(-388.1 -357.95)">1000</text>
<line x1="390.7" y1="343.5" x2="392.5" y2="343.5" stroke="#000" stroke-width="0.9"/>
<text x="388.1" y="345.7" style="font-size:6.4px;stroke:#000;stroke-width:0.25px;" text-anchor="end" transform="translate(388.1 345.7) scale(0.92 1) translate(-388.1 -345.7)">2000</text>
<line x1="390.7" y1="331.25" x2="392.5" y2="331.25" stroke="#000" stroke-width="0.9"/>
<text x="388.1" y="333.45" style="font-size:6.4px;stroke:#000;stroke-width:0.25px;" text-anchor="end" transform="translate(388.1 333.45) scale(0.92 1) translate(-388.1 -333.45)">3000</text>
<line x1="390.7" y1="319" x2="392.5" y2="319" stroke="#000" stroke-width="0.9"/>
<text x="388.1" y="321.2" style="font-size:6.4px;stroke:#000;stroke-width:0.25px;" text-anchor="end" transform="translate(388.1 321.2) scale(0.92 1) translate(-388.1 -321.2)">4000</text>
<line x1="390.7" y1="306.75" x2="392.5" y2="306.75" stroke="#000" stroke-width="0.9"/>
<text x="388.1" y="308.95" style="font-size:6.4px;stroke:#000;stroke-width:0.25px;" text-anchor="end" transform="translate(388.1 308.95) scale(0.92 1) translate(-388.1 -308.95)">5000</text>
<line x1="390.7" y1="294.5" x2="392.5" y2="294.5" stroke="#000" stroke-width="0.9"/>
<text x="388.1" y="296.7" style="font-size:6.4px;stroke:#000;stroke-width:0.25px;" text-anchor="end" transform="translate(388.1 296.7) scale(0.92 1) translate(-388.1 -296.7)">6000</text>
<line x1="414.8" y1="368" x2="414.8" y2="369.6" stroke="#000" stroke-width="0.9"/>
<line x1="436" y1="368" x2="436" y2="369.6" stroke="#000" stroke-width="0.9"/>
<line x1="457.2" y1="368" x2="457.2" y2="369.6" stroke="#000" stroke-width="0.9"/>
<line x1="478.4" y1="368" x2="478.4" y2="369.6" stroke="#000" stroke-width="0.9"/>
<line x1="499.6" y1="368" x2="499.6" y2="369.6" stroke="#000" stroke-width="0.9"/>
<line x1="520.8" y1="368" x2="520.8" y2="369.6" stroke="#000" stroke-width="0.9"/>
<rect x="397.9" y="357.7" width="6.3" height="10.3" fill="#000"/>
<rect x="404.55" y="357.3" width="5.6" height="10.7" fill="url(#hatch)" stroke="#000" stroke-width="0.7"/>
<line x1="401.05" y1="357.7" x2="401.05" y2="355.8" stroke="#000" stroke-width="0.9"/>
<line x1="399.95" y1="355.8" x2="402.15" y2="355.8" stroke="#000" stroke-width="0.9"/>
<line x1="407.35" y1="357.3" x2="407.35" y2="356.5" stroke="#000" stroke-width="0.9"/>
<line x1="406.25" y1="356.5" x2="408.45" y2="356.5" stroke="#000" stroke-width="0.9"/>
<text x="404.2" y="377.6" style="font-size:6.4px;stroke:#000;stroke-width:0.25px;" text-anchor="middle" transform="translate(404.2 377.6) scale(0.95 1) translate(-404.2 -377.6)">0</text>
<rect x="419.1" y="328" width="6.3" height="40" fill="#000"/>
<rect x="425.75" y="336.1" width="5.6" height="31.9" fill="url(#hatch)" stroke="#000" stroke-width="0.7"/>
<line x1="422.25" y1="328" x2="422.25" y2="325.6" stroke="#000" stroke-width="0.9"/>
<line x1="421.15" y1="325.6" x2="423.35" y2="325.6" stroke="#000" stroke-width="0.9"/>
<line x1="428.55" y1="336.1" x2="428.55" y2="329.1" stroke="#000" stroke-width="0.9"/>
<line x1="427.45" y1="329.1" x2="429.65" y2="329.1" stroke="#000" stroke-width="0.9"/>
<text x="425.4" y="377.6" style="font-size:6.4px;stroke:#000;stroke-width:0.25px;" text-anchor="middle" transform="translate(425.4 377.6) scale(0.95 1) translate(-425.4 -377.6)">1.25</text>
<rect x="440.3" y="322.3" width="6.3" height="45.7" fill="#000"/>
<rect x="446.95" y="328" width="5.6" height="40" fill="url(#hatch)" stroke="#000" stroke-width="0.7"/>
<line x1="443.45" y1="322.3" x2="443.45" y2="320.4" stroke="#000" stroke-width="0.9"/>
<line x1="442.35" y1="320.4" x2="444.55" y2="320.4" stroke="#000" stroke-width="0.9"/>
<line x1="449.75" y1="328" x2="449.75" y2="326.3" stroke="#000" stroke-width="0.9"/>
<line x1="448.65" y1="326.3" x2="450.85" y2="326.3" stroke="#000" stroke-width="0.9"/>
<text x="446.6" y="377.6" style="font-size:6.4px;stroke:#000;stroke-width:0.25px;" text-anchor="middle" transform="translate(446.6 377.6) scale(0.95 1) translate(-446.6 -377.6)">2.5</text>
<rect x="461.5" y="315.4" width="6.3" height="52.6" fill="#000"/>
<rect x="468.15" y="320.2" width="5.6" height="47.8" fill="url(#hatch)" stroke="#000" stroke-width="0.7"/>
<line x1="464.65" y1="315.4" x2="464.65" y2="313.3" stroke="#000" stroke-width="0.9"/>
<line x1="463.55" y1="313.3" x2="465.75" y2="313.3" stroke="#000" stroke-width="0.9"/>
<text x="467.8" y="377.6" style="font-size:6.4px;stroke:#000;stroke-width:0.25px;" text-anchor="middle" transform="translate(467.8 377.6) scale(0.95 1) translate(-467.8 -377.6)">5</text>
<rect x="482.7" y="310.5" width="6.3" height="57.5" fill="#000"/>
<rect x="489.35" y="311.8" width="5.6" height="56.2" fill="url(#hatch)" stroke="#000" stroke-width="0.7"/>
<line x1="485.85" y1="310.5" x2="485.85" y2="306.7" stroke="#000" stroke-width="0.9"/>
<line x1="484.75" y1="306.7" x2="486.95" y2="306.7" stroke="#000" stroke-width="0.9"/>
<text x="489" y="377.6" style="font-size:6.4px;stroke:#000;stroke-width:0.25px;" text-anchor="middle" transform="translate(489 377.6) scale(0.95 1) translate(-489 -377.6)">10</text>
<rect x="503.9" y="305.4" width="6.3" height="62.6" fill="#000"/>
<rect x="510.55" y="311" width="5.6" height="57" fill="url(#hatch)" stroke="#000" stroke-width="0.7"/>
<line x1="507.05" y1="305.4" x2="507.05" y2="299.7" stroke="#000" stroke-width="0.9"/>
<line x1="505.95" y1="299.7" x2="508.15" y2="299.7" stroke="#000" stroke-width="0.9"/>
<line x1="513.35" y1="311" x2="513.35" y2="305.9" stroke="#000" stroke-width="0.9"/>
<line x1="512.25" y1="305.9" x2="514.45" y2="305.9" stroke="#000" stroke-width="0.9"/>
<text x="510.2" y="377.6" style="font-size:6.4px;stroke:#000;stroke-width:0.25px;" text-anchor="middle" transform="translate(510.2 377.6) scale(0.95 1) translate(-510.2 -377.6)">20</text>
<text x="440.8" y="385.6" style="font-size:8px;stroke:#000;stroke-width:0.2px;font-weight:bold;" text-anchor="start">ADP(μM)</text>
<text x="367.3" y="327.3" style="font-size:6.95px;stroke:#000;stroke-width:0.2px;font-weight:bold;" text-anchor="middle" transform="rotate(-90 367.3 327.3)">Fibrinogen  Binding (MFI)</text>
<rect x="406.8" y="300.8" width="8.6" height="7" fill="#000"/>
<rect x="407.15" y="309.85" width="7.9" height="6.5" fill="url(#hatch)" stroke="#000" stroke-width="0.7"/>
<text x="420" y="306.8" style="font-size:7px;stroke:#000;stroke-width:0.2px;font-weight:bold;" text-anchor="start">Saline</text>
<text x="420" y="315.5" style="font-size:7px;stroke:#000;stroke-width:0.2px;font-weight:bold;" text-anchor="start">BZ</text>
</svg>
</body></html>
